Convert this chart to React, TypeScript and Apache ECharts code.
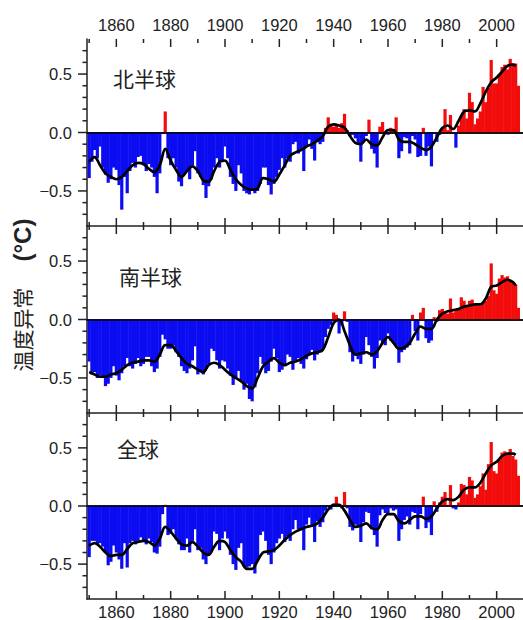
import React, { useEffect, useRef } from 'react';
import * as echarts from 'echarts';

const START_YEAR = 1850;

// Annual anomalies (°C), 1850–2008
const nhAnomaly = [
  -0.39, -0.25, -0.15, -0.22, -0.12, -0.30, -0.36, -0.43, -0.40, -0.30,
  -0.32, -0.45, -0.66, -0.38, -0.52, -0.33, -0.26, -0.30, -0.21, -0.20,
  -0.28, -0.33, -0.27, -0.30, -0.38, -0.52, -0.35, -0.01, 0.18, -0.22,
  -0.28, -0.22, -0.30, -0.42, -0.46, -0.36, -0.33, -0.40, -0.28, -0.16,
  -0.35, -0.38, -0.45, -0.56, -0.46, -0.40, -0.30, -0.22, -0.30, -0.24,
  -0.12, -0.22, -0.38, -0.44, -0.50, -0.28, -0.35, -0.50, -0.52, -0.53,
  -0.50, -0.52, -0.50, -0.44, -0.30, -0.30, -0.45, -0.53, -0.44, -0.38,
  -0.32, -0.22, -0.30, -0.22, -0.25, -0.10, -0.08, -0.18, -0.15, -0.33,
  -0.12, -0.06, -0.14, -0.24, -0.08, -0.10, -0.08, 0.04, 0.13, 0.06,
  0.05, 0.07, 0.04, 0.08, 0.16, 0.02, -0.03, -0.02, -0.05, -0.10,
  -0.25, -0.08, -0.03, 0.11, -0.14, -0.18, -0.30, 0.05, 0.09, 0.00,
  -0.02, 0.04, 0.02, 0.13, -0.22, -0.16, -0.04, -0.05, -0.18, -0.03,
  -0.06, -0.21, -0.20, 0.04, -0.20, -0.12, -0.29, -0.01, -0.08, -0.02,
  0.04, 0.20, 0.02, 0.15, 0.00, -0.13, 0.06, 0.14, 0.20, 0.12,
  0.34, 0.26, 0.07, 0.12, 0.18, 0.39, 0.26, 0.38, 0.62, 0.42,
  0.42, 0.50, 0.56, 0.58, 0.54, 0.63, 0.59, 0.59, 0.40,
];

const shAnomaly = [
  -0.36, -0.47, -0.45, -0.50, -0.48, -0.50, -0.57, -0.55, -0.50, -0.40,
  -0.48, -0.52, -0.46, -0.40, -0.33, -0.40, -0.42, -0.38, -0.33, -0.40,
  -0.38, -0.32, -0.32, -0.40, -0.45, -0.42, -0.32, -0.13, -0.17, -0.25,
  -0.25, -0.22, -0.28, -0.32, -0.40, -0.44, -0.46, -0.42, -0.35, -0.23,
  -0.47, -0.45, -0.47, -0.42, -0.38, -0.25, -0.27, -0.35, -0.42, -0.35,
  -0.36, -0.42, -0.48, -0.56, -0.50, -0.44, -0.52, -0.60, -0.55, -0.68,
  -0.70, -0.58, -0.46, -0.32, -0.38, -0.46, -0.44, -0.36, -0.25, -0.33,
  -0.45, -0.43, -0.40, -0.30, -0.32, -0.43, -0.35, -0.33, -0.38, -0.42,
  -0.34, -0.30, -0.26, -0.35, -0.30, -0.28, -0.25, -0.15, -0.08, -0.05,
  0.06, 0.04, -0.12, -0.05, 0.07, -0.02, -0.28, -0.36, -0.30, -0.34,
  -0.38, -0.30, -0.15, -0.22, -0.32, -0.42, -0.33, -0.18, -0.20, -0.22,
  -0.12, -0.18, -0.20, -0.22, -0.37, -0.28, -0.26, -0.24, -0.22, 0.04,
  -0.10, -0.18, 0.06, 0.10, -0.16, -0.20, -0.18, 0.02, -0.02, 0.08,
  0.09, 0.06, 0.05, 0.18, 0.06, 0.08, 0.09, 0.19, 0.16, 0.12,
  0.16, 0.17, 0.12, 0.12, 0.12, 0.15, 0.16, 0.20, 0.48, 0.25,
  0.22, 0.35, 0.38, 0.36, 0.37, 0.33, 0.32, 0.30, 0.10,
];

const globalAnomaly = [
  -0.44, -0.30, -0.30, -0.33, -0.32, -0.35, -0.40, -0.51, -0.48, -0.34,
  -0.40, -0.46, -0.54, -0.32, -0.53, -0.32, -0.30, -0.33, -0.30, -0.27,
  -0.30, -0.33, -0.28, -0.31, -0.40, -0.41, -0.35, -0.07, 0.01, -0.25,
  -0.24, -0.20, -0.28, -0.33, -0.38, -0.38, -0.28, -0.40, -0.30, -0.20,
  -0.38, -0.36, -0.46, -0.50, -0.42, -0.39, -0.22, -0.24, -0.38, -0.28,
  -0.22, -0.28, -0.42, -0.50, -0.55, -0.36, -0.32, -0.52, -0.53, -0.52,
  -0.50, -0.58, -0.47, -0.25, -0.22, -0.30, -0.42, -0.50, -0.40, -0.32,
  -0.28, -0.24, -0.31, -0.26, -0.30, -0.20, -0.12, -0.20, -0.20, -0.38,
  -0.16, -0.10, -0.17, -0.31, -0.13, -0.18, -0.14, -0.04, -0.01, -0.03,
  0.02, 0.08, 0.00, -0.02, 0.12, -0.02, -0.18, -0.21, -0.16, -0.18,
  -0.31, -0.14, -0.05, -0.06, -0.20, -0.25, -0.35, -0.08, -0.03, -0.06,
  -0.07, -0.02, -0.04, -0.03, -0.30, -0.20, -0.12, -0.09, -0.16, -0.05,
  -0.06, -0.20, -0.07, 0.08, -0.19, -0.14, -0.25, 0.04, -0.05, 0.03,
  0.08, 0.12, 0.01, 0.18, -0.02, -0.03, 0.03, 0.19, 0.18, 0.10,
  0.25, 0.22, 0.07, 0.10, 0.17, 0.28, 0.14, 0.36, 0.55, 0.30,
  0.28, 0.40, 0.46, 0.47, 0.44, 0.49, 0.43, 0.40, 0.26,
];

// Smoothed curves (black lines)
const smoothYears = [
  1850, 1852, 1854, 1856, 1858, 1860, 1862, 1864, 1866, 1868,
  1870, 1872, 1874, 1876, 1878, 1880, 1882, 1884, 1886, 1888,
  1890, 1892, 1894, 1896, 1898, 1900, 1902, 1904, 1906, 1908,
  1910, 1912, 1914, 1916, 1918, 1920, 1922, 1924, 1926, 1928,
  1930, 1932, 1934, 1936, 1938, 1940, 1942, 1944, 1946, 1948,
  1950, 1952, 1954, 1956, 1958, 1960, 1962, 1964, 1966, 1968,
  1970, 1972, 1974, 1976, 1978, 1980, 1982, 1984, 1986, 1988,
  1990, 1992, 1994, 1996, 1998, 2000, 2002, 2004, 2006, 2007,
];

const nhSmooth = [
  -0.25, -0.21, -0.28, -0.35, -0.38, -0.40, -0.38, -0.33, -0.28, -0.26,
  -0.27, -0.31, -0.34, -0.28, -0.14, -0.24, -0.32, -0.38, -0.33, -0.29,
  -0.33, -0.41, -0.42, -0.33, -0.25, -0.24, -0.32, -0.40, -0.45, -0.48,
  -0.49, -0.48, -0.39, -0.40, -0.42, -0.36, -0.28, -0.20, -0.17, -0.15,
  -0.12, -0.10, -0.07, -0.03, 0.05, 0.07, 0.06, 0.04, -0.03, -0.09,
  -0.10, -0.06, -0.10, -0.11, -0.04, 0.02, 0.02, -0.06, -0.08, -0.08,
  -0.10, -0.13, -0.15, -0.12, -0.04, 0.04, 0.06, 0.03, 0.10, 0.18,
  0.19, 0.18, 0.25, 0.35, 0.43, 0.47, 0.52, 0.57, 0.58, 0.57,
];

const shSmooth = [
  -0.45, -0.47, -0.49, -0.49, -0.47, -0.46, -0.43, -0.39, -0.37, -0.36,
  -0.35, -0.35, -0.36, -0.30, -0.22, -0.22, -0.27, -0.33, -0.38, -0.40,
  -0.43, -0.45, -0.39, -0.37, -0.39, -0.43, -0.47, -0.50, -0.53, -0.57,
  -0.59, -0.50, -0.40, -0.36, -0.33, -0.37, -0.39, -0.37, -0.36, -0.34,
  -0.31, -0.29, -0.28, -0.26, -0.15, -0.03, 0.00, -0.10, -0.22, -0.30,
  -0.29, -0.28, -0.30, -0.27, -0.20, -0.15, -0.20, -0.25, -0.24, -0.20,
  -0.12, -0.06, -0.08, -0.08, 0.00, 0.05, 0.07, 0.08, 0.09, 0.11,
  0.12, 0.13, 0.13, 0.18, 0.28, 0.29, 0.32, 0.34, 0.32, 0.29,
];

const globalSmooth = [
  -0.34, -0.32, -0.35, -0.40, -0.43, -0.42, -0.42, -0.37, -0.32, -0.31,
  -0.30, -0.31, -0.34, -0.28, -0.18, -0.22, -0.28, -0.33, -0.34, -0.31,
  -0.35, -0.40, -0.42, -0.35, -0.30, -0.31, -0.38, -0.44, -0.48, -0.54,
  -0.54, -0.47, -0.40, -0.39, -0.38, -0.34, -0.29, -0.25, -0.22, -0.20,
  -0.18, -0.17, -0.15, -0.10, -0.03, 0.01, 0.01, -0.04, -0.12, -0.18,
  -0.17, -0.15, -0.19, -0.20, -0.12, -0.07, -0.07, -0.13, -0.15, -0.12,
  -0.09, -0.09, -0.11, -0.09, -0.02, 0.04, 0.06, 0.05, 0.08, 0.14,
  0.16, 0.16, 0.20, 0.28, 0.35, 0.38, 0.43, 0.45, 0.45, 0.44,
];

const panelNames = ['北半球', '南半球', '全球'];
const xMajorTicks = [1860, 1880, 1900, 1920, 1940, 1960, 1980, 2000];
const xMinorTicks = [1850, 1870, 1890, 1910, 1930, 1950, 1970, 1990];
const yMajorTicks = [-0.5, 0, 0.5];
const yMinorTicks = [-0.7, -0.6, -0.4, -0.3, -0.2, -0.1, 0.1, 0.2, 0.3, 0.4, 0.6, 0.7];
const yAxisTitle = '温度异常';
const yAxisUnit = '(°C)';

const BLUE = '#0c0cf2';
const RED = '#f20c0c';
const AXIS = '#222';
const X_MIN = 1849.2;
const X_MAX = 2009.7;
const Y_MIN = -0.8;
const Y_MAX = 0.8;
const GRID_TOPS = [39, 226, 413];
const GRID_H = 187;
const GRID_LEFT = 87;
const GRID_W = 436;

const fmtY = (v: number) => (v < 0 ? '\u2212' + Math.abs(v).toFixed(1) : v.toFixed(1));
const fmtX = (v: number) => String(Math.round(v));

export default function App() {
  const ref = useRef<HTMLDivElement>(null);
  useEffect(() => {
    if (!ref.current) return;
    const chart = echarts.init(ref.current, undefined, { renderer: 'svg' });
    const annual = [nhAnomaly, shAnomaly, globalAnomaly];
    const smooth = [nhSmooth, shSmooth, globalSmooth];
    const tickStyle = { stroke: AXIS, lineWidth: 1.5 };

    const grids: any[] = [];
    const xAxes: any[] = [];
    const yAxes: any[] = [];
    const series: any[] = [];

    const labelStyle = {
      fontFamily: '"Liberation Sans", Arial, sans-serif', fontSize: 16.5, color: AXIS,
    };

    for (let g = 0; g < 3; g++) {
      grids.push({ left: GRID_LEFT, top: GRID_TOPS[g], width: GRID_W, height: GRID_H });
      const xBase = {
        type: 'value', gridIndex: g, min: X_MIN, max: X_MAX, splitLine: { show: false },
        axisTick: { show: false },
        axisLine: { show: true, lineStyle: { color: AXIS, width: 1.5 } },
      };
      xAxes.push({
        ...xBase, position: 'top',
        axisLabel: { show: g === 0, customValues: xMajorTicks, margin: 6, formatter: fmtX, ...labelStyle },
      });
      xAxes.push({
        ...xBase, position: 'bottom',
        axisLabel: { show: g === 2, customValues: xMajorTicks, margin: 4, formatter: fmtX, ...labelStyle },
      });
      yAxes.push({
        type: 'value', gridIndex: g, min: Y_MIN, max: Y_MAX, position: 'left',
        splitLine: { show: false },
        axisLine: { show: true, lineStyle: { color: AXIS, width: 1.5 } },
        axisTick: { show: false },
        axisLabel: { show: true, customValues: yMajorTicks, margin: 15, formatter: fmtY, ...labelStyle },
      });

      // annual bars
      series.push({
        type: 'custom',
        xAxisIndex: 2 * g,
        yAxisIndex: g,
        encode: { x: 0, y: 1 },
        data: annual[g].map((v, i) => [START_YEAR + i, v]),
        renderItem: (params: any, api: any) => {
          const yr = api.value(0);
          const v = api.value(1);
          const p0 = api.coord([yr - 0.5, 0]);
          const p1 = api.coord([yr + 0.5, v]);
          const y = Math.min(p0[1], p1[1]);
          const h = Math.abs(p1[1] - p0[1]);
          return {
            type: 'rect',
            shape: { x: p0[0] - 0.25, y, width: p1[0] - p0[0] + 0.5, height: h },
            style: { fill: v >= 0 ? RED : BLUE },
          };
        },
        z: 2,
      });

      // smoothed curve + zero line
      series.push({
        type: 'line',
        xAxisIndex: 2 * g,
        yAxisIndex: g,
        data: smoothYears.map((yr, i) => [yr, smooth[g][i]]),
        smooth: 0.35,
        showSymbol: false,
        symbol: 'none',
        lineStyle: { color: '#000', width: 2.7 },
        z: 4,
        markLine: {
          silent: true,
          symbol: ['none', 'none'],
          label: { show: false },
          lineStyle: { color: '#000', width: 1.6, type: 'solid' },
          data: [{ yAxis: 0 }],
        },
      });

      // x ticks (inward, top and bottom of each panel)
      const xTickData = [
        ...xMajorTicks.map((v) => [v, 0, 8]),
        ...xMinorTicks.map((v) => [v, 0, 4]),
      ];
      series.push({
        type: 'custom',
        xAxisIndex: 2 * g,
        yAxisIndex: g,
        encode: { x: 0, y: 1 },
        data: xTickData,
        silent: true,
        renderItem: (params: any, api: any) => {
          const v = api.value(0);
          const len = api.value(2);
          const top = api.coord([v, Y_MAX]);
          const bot = api.coord([v, Y_MIN]);
          return {
            type: 'group',
            children: [
              { type: 'line', shape: { x1: top[0], y1: top[1], x2: top[0], y2: top[1] + len }, style: tickStyle },
              { type: 'line', shape: { x1: bot[0], y1: bot[1], x2: bot[0], y2: bot[1] - len }, style: tickStyle },
            ],
          };
        },
        z: 6,
      });

      // y ticks (outward, left)
      const yTickData = [
        ...yMajorTicks.map((v) => [X_MIN, v, 9]),
        ...yMinorTicks.map((v) => [X_MIN, v, 4.5]),
      ];
      series.push({
        type: 'custom',
        xAxisIndex: 2 * g,
        yAxisIndex: g,
        encode: { x: 0, y: 1 },
        data: yTickData,
        silent: true,
        renderItem: (params: any, api: any) => {
          const v = api.value(1);
          const len = api.value(2);
          const p = api.coord([X_MIN, v]);
          return {
            type: 'line',
            shape: { x1: p[0] - len, y1: p[1], x2: p[0], y2: p[1] },
            style: tickStyle,
          };
        },
        z: 6,
      });
    }

    const labelPos = [
      { x: 113, y: 77.5 },
      { x: 119, y: 276 },
      { x: 117, y: 448 },
    ];

    chart.setOption({
      animation: false,
      backgroundColor: '#fff',
      grid: grids,
      xAxis: xAxes,
      yAxis: yAxes,
      series,
      graphic: [
        ...panelNames.map((name, i) => ({
          type: 'text',
          x: labelPos[i].x,
          y: labelPos[i].y,
          style: {
            text: name,
            fontFamily: '"Noto Sans CJK SC", sans-serif',
            fontSize: 21,
            fill: '#222',
            verticalAlign: 'middle',
          },
          z: 10,
        })),
        {
          type: 'text',
          x: 22,
          y: 295,
          rotation: Math.PI / 2,
          style: {
            text: '{a|' + yAxisTitle + '}{s| }{b|' + yAxisUnit + '}',
            align: 'center',
            verticalAlign: 'middle',
            rich: {
              a: { fontFamily: '"Noto Sans CJK SC", sans-serif', fontSize: 21, fill: '#222' },
              s: { width: 26, fontSize: 21 },
              b: { fontFamily: '"Liberation Sans", Arial, sans-serif', fontSize: 24, fontWeight: 'bold', fill: '#222' },
            },
          },
          z: 10,
        },
      ],
    });
    return () => chart.dispose();
  }, []);
  return (
    <div
      ref={ref}
      style={{ position: 'absolute', left: 0, top: 0, width: 523, height: 620 }}
    />
  );
}
